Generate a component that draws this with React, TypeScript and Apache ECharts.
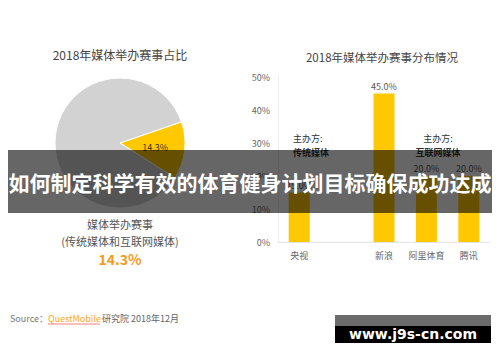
import React, { useEffect, useRef } from "react";
import * as echarts from "echarts";

const pieNames = ["媒体举办赛事", "其他"];
const pieValues = [14.3, 85.7];
const barCategories = ["央视", "", "新浪", "阿里体育", "腾讯"];
const barValues: (number | null)[] = [15.0, null, 45.0, 20.0, 20.0];
const yTicks = [0, 10, 20, 30, 40, 50];

const FONT = '"Noto Sans CJK SC", "Noto Sans", sans-serif';

export default function App() {
  const ref = useRef<HTMLDivElement>(null);
  useEffect(() => {
    if (!ref.current) return;
    const chart = echarts.init(ref.current, null, { renderer: "svg" });
    chart.setOption({
      animation: false,
      backgroundColor: "#ffffff",
      textStyle: { fontFamily: FONT },
      grid: { left: 278, right: 10, top: 77, bottom: 120 },
      xAxis: {
        type: "category",
        data: barCategories,
        axisLine: { lineStyle: { color: "#e3e3e3" } },
        axisTick: { show: false },
        axisLabel: { color: "#666", fontSize: 9, margin: 9, interval: 0, hideOverlap: false, fontFamily: FONT },
      },
      yAxis: {
        type: "value",
        min: yTicks[0],
        max: yTicks[yTicks.length - 1],
        interval: 10,
        axisLine: { show: true, lineStyle: { color: "#eeeeee" } },
        axisTick: { show: false },
        splitLine: { show: false },
        axisLabel: {
          color: "#666",
          fontSize: 9,
          margin: 8,
          formatter: "{value}%",
          fontFamily: FONT,
        },
      },
      series: [
        {
          type: "pie",
          center: [120, 143],
          radius: 65,
          startAngle: 19,
          clockwise: true,
          silent: true,
          itemStyle: { borderColor: "#fff", borderWidth: 1 },
          label: {
            show: true,
            position: "inside",
            fontSize: 9,
            color: "#333",
            fontFamily: FONT,
            formatter: (p: any) => (p.dataIndex === 0 ? p.value.toFixed(1) + "%" : ""),
          },
          labelLine: { show: false },
          data: pieNames.map((n, i) => ({
            name: n,
            value: pieValues[i],
            itemStyle: { color: i === 0 ? "#FFC800" : "#D2D2D2" },
          })),
        },
        {
          type: "bar",
          data: barValues,
          barWidth: 21,
          itemStyle: { color: "#FFC800" },
          label: {
            show: true,
            position: "top",
            distance: 3,
            fontSize: 9,
            color: "#555",
            fontFamily: FONT,
            formatter: (p: any) => (p.value == null ? "" : Number(p.value).toFixed(1) + "%"),
          },
        },
      ],
      graphic: [
        {
          type: "text",
          x: 120,
          y: 54,
          style: {
            text: "2018年媒体举办赛事占比",
            fill: "#444",
            font: `12px ${FONT}`,
            textAlign: "center",
            textVerticalAlign: "middle",
          },
        },
        {
          type: "text",
          x: 382,
          y: 57,
          style: {
            text: "2018年媒体举办赛事分布情况",
            fill: "#444",
            font: `11.5px ${FONT}`,
            textAlign: "center",
            textVerticalAlign: "middle",
          },
        },
        {
          type: "text",
          x: 293,
          y: 138,
          style: { text: "主办方:", fill: "#333", font: `9px ${FONT}`, textVerticalAlign: "middle" },
        },
        {
          type: "text",
          x: 293,
          y: 152,
          style: { text: "传统媒体", fill: "#333", font: `bold 9px ${FONT}`, textVerticalAlign: "middle" },
        },
        {
          type: "text",
          x: 438,
          y: 138,
          style: { text: "主办方:", fill: "#333", font: `9px ${FONT}`, textAlign: "center", textVerticalAlign: "middle" },
        },
        {
          type: "text",
          x: 438,
          y: 152,
          style: { text: "互联网媒体", fill: "#333", font: `bold 9px ${FONT}`, textAlign: "center", textVerticalAlign: "middle" },
        },
        {
          type: "text",
          x: 120,
          y: 224,
          style: { text: "媒体举办赛事", fill: "#555", font: `11px ${FONT}`, textAlign: "center", textVerticalAlign: "middle" },
        },
        {
          type: "text",
          x: 120,
          y: 241,
          style: { text: "(传统媒体和互联网媒体)", fill: "#555", font: `11px ${FONT}`, textAlign: "center", textVerticalAlign: "middle" },
        },
        {
          type: "text",
          x: 120,
          y: 259,
          style: { text: "14.3%", fill: "#F59A1B", font: `bold 14px ${FONT}`, textAlign: "center", textVerticalAlign: "middle" },
        },
        {
          type: "text",
          x: 10,
          y: 318,
          style: { text: "Source：", fill: "#777", font: `9px ${FONT}`, textVerticalAlign: "middle" },
        },
        {
          type: "text",
          x: 48,
          y: 318,
          style: { text: "QuestMobile", fill: "#F5A623", font: `9px ${FONT}`, textVerticalAlign: "middle" },
        },
        {
          type: "line",
          shape: { x1: 48, y1: 324, x2: 100, y2: 324 },
          style: { stroke: "#F08080", lineWidth: 1 },
        },
        {
          type: "text",
          x: 102,
          y: 318,
          style: { text: "研究院 2018年12月", fill: "#666", font: `9px ${FONT}`, textVerticalAlign: "middle" },
        },
        {
          type: "rect",
          z: 100,
          shape: { x: 8, y: 150, width: 484, height: 63 },
          style: { fill: "rgba(0,0,0,0.6)" },
        },
        {
          type: "text",
          z: 101,
          x: 250,
          y: 182,
          style: {
            text: "如何制定科学有效的体育健身计划目标确保成功达成",
            fill: "#fff",
            font: `bold 21px ${FONT}`,
            textAlign: "center",
            textVerticalAlign: "middle",
          },
        },
        {
          type: "rect",
          z: 100,
          shape: { x: 335, y: 315, width: 156, height: 11 },
          style: { fill: "#6b6b6b" },
        },
        {
          type: "rect",
          z: 100,
          shape: { x: 335, y: 326, width: 156, height: 17 },
          style: { fill: "#000" },
        },
        {
          type: "text",
          z: 101,
          x: 413,
          y: 334,
          style: {
            text: "www.j9s-cn.com",
            fill: "#fff",
            font: `bold 14px "DejaVu Sans", sans-serif`,
            textAlign: "center",
            textVerticalAlign: "middle",
          },
        },
      ],
    });
    return () => chart.dispose();
  }, []);
  return (
    <div
      ref={ref}
      style={{ position: "fixed", left: 0, top: 0, width: 500, height: 362 }}
    />
  );
}
